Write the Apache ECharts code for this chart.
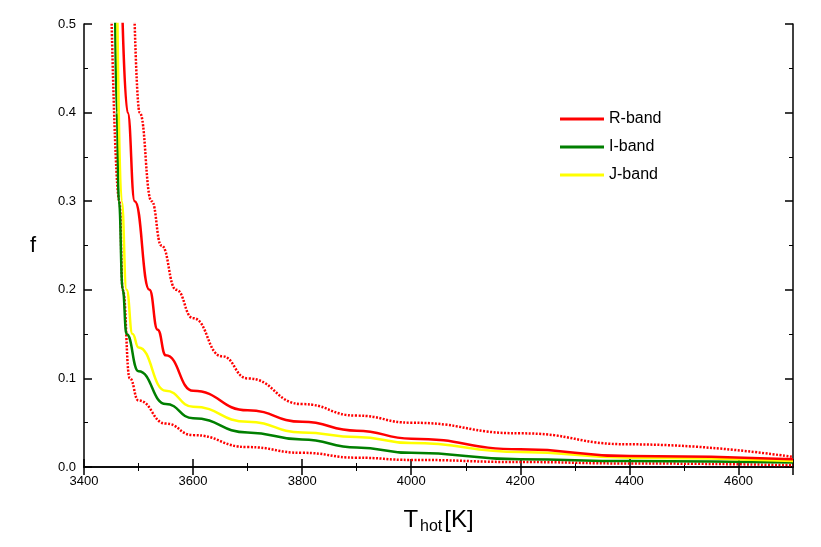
<!DOCTYPE html>
<html><head><meta charset="utf-8">
<script src="https://cdn.jsdelivr.net/npm/echarts@6/dist/echarts.min.js"></script>
<style>html,body{margin:0;padding:0;background:#fff}#c{width:821px;height:547px}</style>
</head><body><div id="c"></div>
<script>
const xTicks = [3400,3600,3800,4000,4200,4400,4600];
const yTicks = [0.0,0.1,0.2,0.3,0.4,0.5];
const legendNames = ['R-band','I-band','J-band'];

const lowX = [3450,3465,3471,3484,3500,3550,3600,3700,3800,3900,4000,4200,4400,4700];
const lowY = [0.52,0.3,0.2,0.1,0.075,0.049,0.036,0.0225,0.016,0.0105,0.008,0.0056,0.004,0.002];
const iX = [3457,3460,3464,3471,3478,3500,3550,3600,3700,3800,3900,4000,4200,4400,4700];
const iY = [0.52,0.4,0.3,0.2,0.15,0.108,0.071,0.055,0.039,0.031,0.022,0.016,0.0087,0.0068,0.005];
const jX = [3461,3469,3478,3489,3500,3550,3600,3700,3800,3900,4000,4200,4400,4700];
const jY = [0.52,0.3,0.2,0.15,0.135,0.086,0.068,0.051,0.039,0.034,0.027,0.017,0.0105,0.0068];
const rX = [3470,3480,3493,3520,3535,3550,3600,3700,3800,3900,4000,4200,4400,4700];
const rY = [0.52,0.4,0.3,0.2,0.155,0.126,0.086,0.064,0.051,0.041,0.032,0.02,0.0124,0.0087];
const upX = [3492,3502,3524,3542,3569,3600,3653,3700,3800,3900,4000,4200,4400,4700];
const upY = [0.52,0.4,0.3,0.25,0.2,0.168,0.125,0.10,0.071,0.058,0.05,0.038,0.0256,0.0113];

const zip = (a,b)=>a.map((v,i)=>[v,b[i]]);
const font = 'Liberation Sans, Arial, sans-serif';
function axisBase(){return {axisLine:{lineStyle:{color:'#000',width:1.5}},axisTick:{inside:true,length:8,lineStyle:{color:'#000',width:1.5}},minorTick:{show:true,splitNumber:2,length:4,lineStyle:{color:'#000'}},splitLine:{show:false}};}
function line(name,x,y,color,dotted){return {name:name,type:'line',data:zip(x,y),smooth:0.5,smoothMonotone:'x',showSymbol:false,symbol:'none',clip:true,
  lineStyle:{color:color,width:2.5,type:dotted?[2,1.5]:'solid'},itemStyle:{color:color}};}
const chart = echarts.init(document.getElementById('c'));
chart.setOption({
  animation:false,
  grid:{left:84,right:28,top:24,bottom:80},
  legend:{data:legendNames,orient:'vertical',left:555,top:106,itemWidth:44,itemHeight:3,itemGap:12,icon:'rect',
    textStyle:{fontFamily:font,fontSize:16,color:'#000'}},
  xAxis:[Object.assign(axisBase(),{type:'value',min:3400,max:4700,interval:200,
    axisLabel:{fontFamily:font,fontSize:13,color:'#000',showMaxLabel:false,formatter:v=>String(v)},
    name:'{a|T}{b|hot}{a|[K]}',nameLocation:'middle',nameGap:38,
    nameTextStyle:{rich:{a:{fontFamily:font,fontSize:24,color:'#000'},b:{fontFamily:font,fontSize:16,color:'#000',padding:[14,2,0,2]}}}}),
    Object.assign(axisBase(),{type:'value',position:'top',min:3400,max:4700,interval:200,axisLabel:{show:false}})],
  yAxis:[Object.assign(axisBase(),{type:'value',min:0,max:0.5,interval:0.1,
    axisLabel:{fontFamily:font,fontSize:13,color:'#000',formatter:v=>v.toFixed(1)},
    name:'f',nameLocation:'middle',nameGap:48,nameRotate:0,nameTextStyle:{fontFamily:font,fontSize:22,color:'#000'}}),
    Object.assign(axisBase(),{type:'value',position:'right',min:0,max:0.5,interval:0.1,axisLabel:{show:false}})],
  series:[
    line('lowR',lowX,lowY,'#ff0000',true),
    line('upR',upX,upY,'#ff0000',true),
    line('I-band',iX,iY,'#007f00',false),
    line('J-band',jX,jY,'#ffff00',false),
    line('R-band',rX,rY,'#ff0000',false)
  ]
});
</script></body></html>
